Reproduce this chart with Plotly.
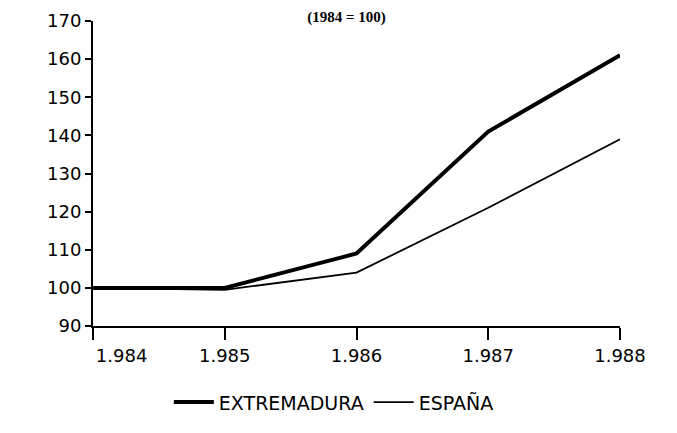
import plotly.graph_objects as go

years = [1984, 1985, 1986, 1987, 1988]
year_labels = ["\u00a0" * 10 + "1.984", "1.985", "1.986", "1.987", "1.988"]
extremadura = [100, 100, 109, 141, 161]
espana = [100, 99.5, 104, 121, 139]
y_ticks = [90, 100, 110, 120, 130, 140, 150, 160, 170]

fig = go.Figure()
fig.add_trace(go.Scatter(
    x=years, y=extremadura, name="EXTREMADURA", mode="lines",
    line=dict(color="black", width=4),
))
fig.add_trace(go.Scatter(
    x=years, y=espana, name="ESPAÑA", mode="lines",
    line=dict(color="black", width=1.8),
))

fig.update_layout(
    width=677, height=433,
    margin=dict(l=85, r=65, t=13, b=115, autoexpand=False),
    paper_bgcolor="white", plot_bgcolor="white",
    font=dict(family="DejaVu Sans, sans-serif", color="black", size=18),
    showlegend=True,
    legend=dict(
        orientation="h", x=0.457, xanchor="center", y=-0.25, yanchor="middle",
        font=dict(size=19), itemwidth=40,
    ),
    title=dict(
        text="<b>(1984 = 100)</b>", x=0.5, xref="container", xanchor="center",
        y=1.0, yref="container", yanchor="top", pad=dict(t=3),
        font=dict(family="Liberation Serif, serif", size=15, color="black"),
    ),
)

fig.update_xaxes(
    range=[1984, 1988], tickvals=years, ticktext=year_labels,
    showgrid=False, zeroline=False, showline=True, linecolor="black", linewidth=2,
    ticks="outside", ticklen=12, tickwidth=2, tickcolor="black",
)
fig.update_yaxes(
    range=[90, 170], tickvals=y_ticks,
    showgrid=False, zeroline=False, showline=True, linecolor="black", linewidth=2,
    ticks="outside", ticklen=6, tickwidth=2, tickcolor="black",
)

fig.write_html("out.html")
